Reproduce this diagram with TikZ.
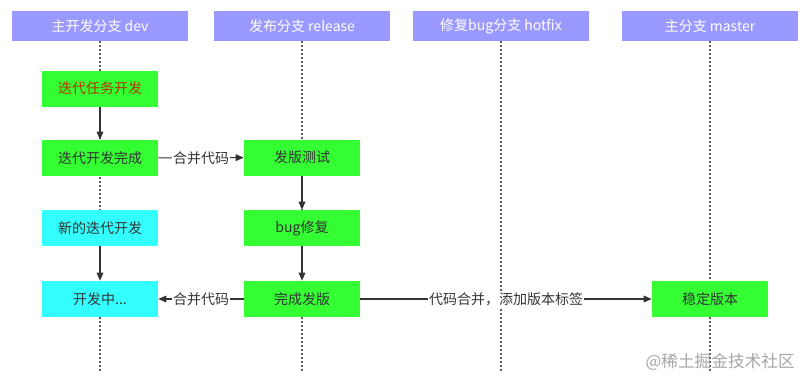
\documentclass[tikz,border=0pt]{standalone}
\usepackage{fontspec}
\setmainfont{Noto Sans CJK SC}
\usetikzlibrary{arrows.meta}
\definecolor{hdr}{RGB}{153,153,255}
\definecolor{grn}{RGB}{51,255,51}
\definecolor{cyn}{RGB}{51,255,255}
\definecolor{txt}{RGB}{51,51,51}
\definecolor{redtxt}{RGB}{180,50,0}
\definecolor{lifel}{RGB}{90,90,90}
\begin{document}
\begin{tikzpicture}[x=0.75pt,y=-0.75pt,
  hdrbox/.style={fill=hdr,draw=none,minimum width=132pt,minimum height=22.5pt,inner sep=0pt,text=white,font=\fontsize{10.5}{12}\selectfont},
  gbox/.style={fill=grn,draw=none,minimum width=87pt,minimum height=27pt,inner sep=0pt,text=txt,font=\fontsize{10.5}{12}\selectfont},
  cbox/.style={gbox,fill=cyn},
  lifeline/.style={draw=lifel,line width=1.3pt,dash pattern=on 1.2pt off 1.8pt},
  flow/.style={draw=txt,line width=0.8pt,-{Triangle[length=6pt,width=5pt]}},
  lbl/.style={fill=white,inner sep=1pt,text=txt,font=\fontsize{10.5}{12}\selectfont}]
\useasboundingbox (0,0) rectangle (807,387);
% headers
\node[hdrbox] (hdev) at (100,26) {主开发分支 dev};
\node[hdrbox] (hrel) at (302,26) {发布分支 release};
\node[hdrbox] (hfix) at (501,26) {修复bug分支 hotfix};
\node[hdrbox] (hmas) at (710,26) {主分支 master};
% lifeline ends
\coordinate (edev) at (100,373);
\coordinate (erel) at (302,373);
\coordinate (efix) at (501,373);
\coordinate (emas) at (710,373);
\draw[lifeline] (hdev.south) -- (edev);
\draw[lifeline] (hrel.south) -- (erel);
\draw[lifeline] (hfix.south) -- (efix);
\draw[lifeline] (hmas.south) -- (emas);
% boxes
\node[gbox,text=redtxt] (task) at (100,88.5) {迭代任务开发};
\node[gbox] (done) at (100,158) {迭代开发完成};
\node[gbox] (test) at (302,157.5) {发版测试};
\node[cbox] (newit) at (100,228) {新的迭代开发};
\node[gbox] (fix) at (302,228) {bug修复};
\node[cbox] (wip) at (100,299) {开发中...};
\node[gbox] (rel) at (302,299) {完成发版};
\node[gbox] (stable) at (710,299) {稳定版本};
% watermark
\node[text=black!35,font=\fontsize{12.5}{14}\selectfont,anchor=east,inner sep=0pt] (wm) at (795,362) {@稀土掘金技术社区};
% flows
\draw[flow] (task) -- (done);
\draw[flow] (newit) -- (wip);
\draw[flow] (test) -- (fix);
\draw[flow] (fix) -- (rel);
\draw[flow] (done) -- node[lbl] {合并代码} (test);
\draw[flow] (rel) -- node[lbl] {合并代码} (wip);
\draw[flow] (rel) -- node[lbl] {代码合并，添加版本标签} (stable);
\end{tikzpicture}
\end{document}
